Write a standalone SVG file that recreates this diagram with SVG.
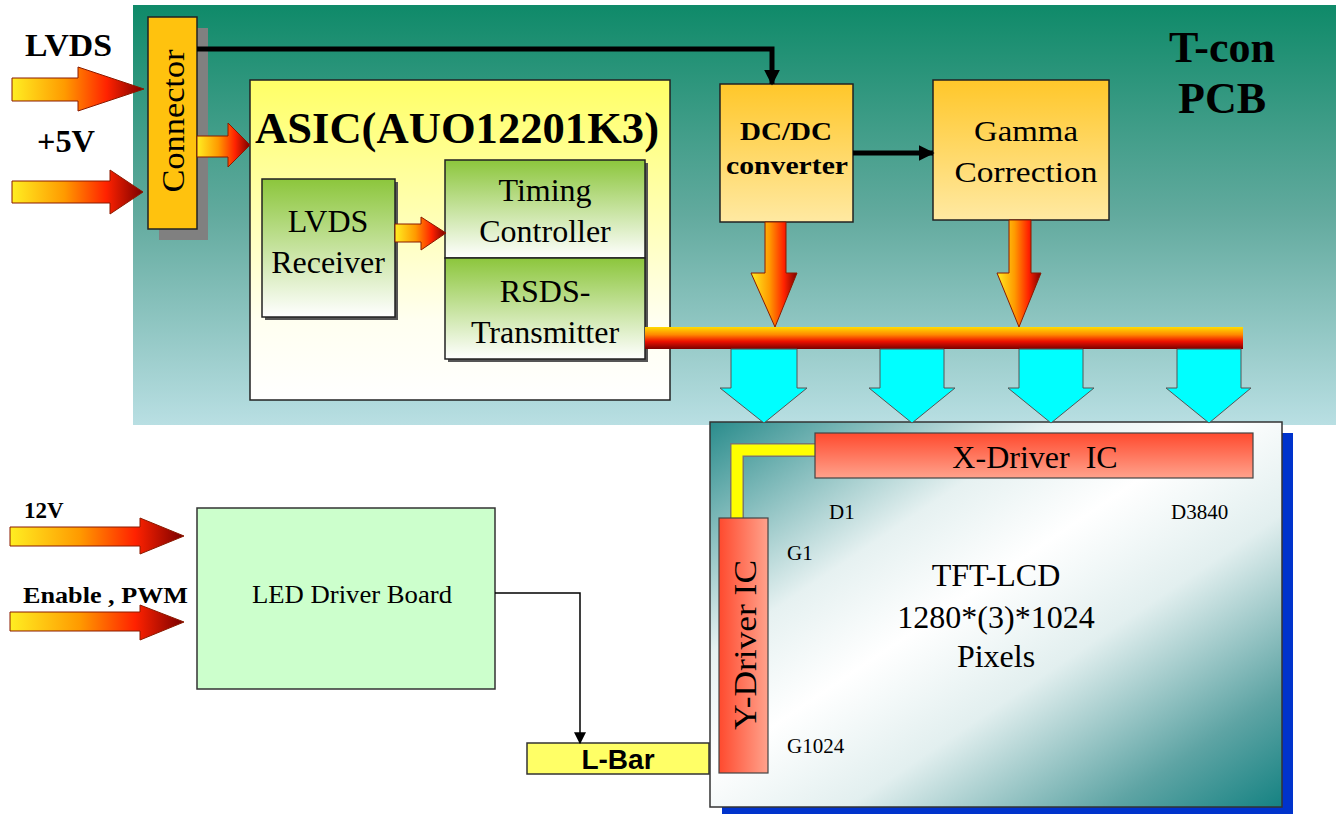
<svg xmlns="http://www.w3.org/2000/svg" width="1336" height="814" viewBox="0 0 1336 814">
<style>
.tr{font-family:"Liberation Serif","Times New Roman",serif;fill:#000}
.b{font-weight:bold}
.c{text-anchor:middle}
.box{stroke:#222;stroke-width:1.5}
.harr{fill:url(#hArrow);stroke:#8a1a00;stroke-width:1}
.cyan{fill:#00ffff;stroke:#555;stroke-width:1}
</style>
<defs>
<linearGradient id="pcbGrad" x1="0" y1="0" x2="0" y2="1">
<stop offset="0" stop-color="#0f8a69"/><stop offset="0.5" stop-color="#62aa9e"/><stop offset="1" stop-color="#b9dfe3"/>
</linearGradient>
<linearGradient id="asicGrad" x1="0" y1="0" x2="0" y2="1">
<stop offset="0" stop-color="#ffff66"/><stop offset="0.75" stop-color="#fffff0"/><stop offset="1" stop-color="#ffffff"/>
</linearGradient>
<linearGradient id="greenGrad" x1="0" y1="0" x2="0" y2="1">
<stop offset="0" stop-color="#8cc63c"/><stop offset="1" stop-color="#ffffff"/>
</linearGradient>
<linearGradient id="orangeBox" x1="0" y1="0" x2="0" y2="1">
<stop offset="0" stop-color="#ffc72a"/><stop offset="1" stop-color="#ffe9a2"/>
</linearGradient>
<linearGradient id="hArrow" x1="0" y1="0" x2="1" y2="0">
<stop offset="0" stop-color="#ffee22"/><stop offset="0.4" stop-color="#ff9a00"/><stop offset="0.72" stop-color="#ff2200"/><stop offset="1" stop-color="#7a0000"/>
</linearGradient>
<linearGradient id="busGrad" x1="0" y1="0" x2="0" y2="1">
<stop offset="0" stop-color="#ffdd00"/><stop offset="0.35" stop-color="#ff8800"/><stop offset="0.65" stop-color="#ee1100"/><stop offset="1" stop-color="#7a0000"/>
</linearGradient>
<linearGradient id="lcdGrad" x1="0" y1="0" x2="1" y2="1">
<stop offset="0" stop-color="#2a8c8c"/><stop offset="0.3" stop-color="#e6f1f1"/><stop offset="0.45" stop-color="#ffffff"/><stop offset="0.62" stop-color="#e2efef"/><stop offset="0.85" stop-color="#5ea4a4"/><stop offset="1" stop-color="#158282"/>
</linearGradient>
<linearGradient id="redV" x1="0" y1="0" x2="0" y2="1">
<stop offset="0" stop-color="#ff4a2e"/><stop offset="1" stop-color="#ffa28c"/>
</linearGradient>
<linearGradient id="redH" x1="0" y1="0" x2="1" y2="0">
<stop offset="0" stop-color="#ff4a2e"/><stop offset="1" stop-color="#ffa28c"/>
</linearGradient>
<marker id="blk" viewBox="0 0 10 10" refX="9" refY="5" markerWidth="3.2" markerHeight="3.2" orient="auto" markerUnits="strokeWidth">
<path d="M0,0 L10,5 L0,10 Z" fill="#000"/>
</marker>
<marker id="thin" viewBox="0 0 10 10" refX="9" refY="5" markerWidth="8" markerHeight="8" orient="auto" markerUnits="strokeWidth">
<path d="M0,0 L10,5 L0,10 Z" fill="#000"/>
</marker>
</defs>

<g id="pcb">
<rect x="133" y="5" width="1203" height="420" fill="url(#pcbGrad)"/>
<text class="tr b c" x="1222" y="62" font-size="44">T-con</text>
<text class="tr b c" x="1222" y="113" font-size="44">PCB</text>
</g>

<g id="inputs-top">
<text class="tr b" x="25" y="56" font-size="31" textLength="87" lengthAdjust="spacingAndGlyphs">LVDS</text>
<text class="tr b" x="37" y="152" font-size="31" textLength="58" lengthAdjust="spacingAndGlyphs">+5V</text>
</g>

<g id="connector">
<rect x="159" y="28" width="49" height="212" fill="#808080"/>
<rect class="box" x="148" y="17" width="49" height="212" fill="#ffc20e"/>
<text class="tr c" transform="translate(184,121) rotate(-90)" font-size="32" textLength="143" lengthAdjust="spacingAndGlyphs">Connector</text>
</g>

<g id="asic">
<rect class="box" x="250" y="80" width="420" height="320" fill="url(#asicGrad)"/>
<text class="tr b" x="255" y="143" font-size="44" textLength="404" lengthAdjust="spacingAndGlyphs">ASIC(AUO12201K3)</text>
</g>

<g id="lvds-receiver">
<rect x="265" y="182" width="133" height="138" fill="#555"/>
<rect class="box" x="262" y="179" width="133" height="138" fill="url(#greenGrad)"/>
<text class="tr c" x="328" y="232" font-size="32">LVDS</text>
<text class="tr c" x="328" y="273" font-size="32">Receiver</text>
</g>

<g id="timing-controller">
<rect x="448" y="163" width="200" height="98" fill="#555"/>
<rect class="box" x="445" y="160" width="200" height="98" fill="url(#greenGrad)"/>
<text class="tr c" x="545" y="201" font-size="32">Timing</text>
<text class="tr c" x="545" y="242" font-size="32">Controller</text>
</g>

<g id="rsds-transmitter">
<rect x="448" y="261" width="200" height="101" fill="#555"/>
<rect class="box" x="445" y="258" width="200" height="101" fill="url(#greenGrad)"/>
<text class="tr c" x="545" y="302" font-size="32">RSDS-</text>
<text class="tr c" x="545" y="343" font-size="32">Transmitter</text>
</g>

<g id="dcdc">
<rect class="box" x="720" y="84" width="133" height="138" fill="url(#orangeBox)"/>
<text class="tr b c" x="786" y="140" font-size="26" textLength="92" lengthAdjust="spacingAndGlyphs">DC/DC</text>
<text class="tr b c" x="787" y="174" font-size="26" textLength="122" lengthAdjust="spacingAndGlyphs">converter</text>
</g>

<g id="gamma">
<rect class="box" x="933" y="80" width="176" height="140" fill="url(#orangeBox)"/>
<text class="tr c" x="1026" y="141" font-size="30" textLength="104" lengthAdjust="spacingAndGlyphs">Gamma</text>
<text class="tr c" x="1026" y="182" font-size="30" textLength="143" lengthAdjust="spacingAndGlyphs">Correction</text>
</g>

<g id="lcd-panel">
<rect x="722" y="433" width="571" height="390" fill="#0033cc"/>
<rect x="710" y="422" width="572" height="385" fill="url(#lcdGrad)" stroke="#333" stroke-width="1.5"/>
<path d="M737,518 V450 H815" fill="none" stroke="#777" stroke-width="14"/>
<path d="M737,518 V450 H815" fill="none" stroke="#ffff00" stroke-width="11"/>
<text class="tr c" x="996" y="586" font-size="32">TFT-LCD</text>
<text class="tr c" x="996" y="628" font-size="32">1280*(3)*1024</text>
<text class="tr c" x="996" y="667" font-size="32">Pixels</text>
<text class="tr" x="829" y="519" font-size="21">D1</text>
<text class="tr" x="1171" y="519" font-size="21">D3840</text>
<text class="tr" x="787" y="560" font-size="21">G1</text>
<text class="tr" x="787" y="753" font-size="21">G1024</text>
</g>

<g id="x-driver">
<rect x="815" y="433" width="438" height="45" fill="url(#redV)" stroke="#444" stroke-width="1.2"/>
<text class="tr c" x="1035" y="468" font-size="32" xml:space="preserve">X-Driver  IC</text>
</g>

<g id="y-driver">
<rect x="719" y="518" width="49" height="255" fill="url(#redH)" stroke="#444" stroke-width="1.2"/>
<text class="tr c" transform="translate(756,645) rotate(-90)" font-size="32" textLength="170" lengthAdjust="spacingAndGlyphs">Y-Driver IC</text>
</g>

<g id="led-driver">
<rect x="197" y="508" width="298" height="181" fill="#ccffcc" stroke="#333" stroke-width="1.5"/>
<text class="tr c" x="352" y="603" font-size="26" textLength="200" lengthAdjust="spacingAndGlyphs">LED Driver Board</text>
</g>

<g id="lbar">
<rect x="527" y="743" width="182" height="31" fill="#ffff66" stroke="#333" stroke-width="1.5"/>
<text x="618" y="769" font-family="Liberation Sans, Arial, sans-serif" font-weight="bold" font-size="28" text-anchor="middle">L-Bar</text>
</g>

<g id="inputs-bottom">
<text class="tr b" x="24" y="518" font-size="23">12V</text>
<text class="tr b" x="23" y="603" font-size="24" textLength="165" lengthAdjust="spacingAndGlyphs">Enable , PWM</text>
</g>

<g id="connectors">
<polygon class="harr" points="12,78 78,78 78,67 144,89 78,111 78,101 12,101"/>
<polygon class="harr" points="12,181 110,181 110,170 143,192 110,214 110,203 12,203"/>
<polygon class="harr" points="197,136 228,136 228,123 250,145 228,167 228,157 197,157"/>
<polygon class="harr" points="395,224 421,224 421,217 446,233 421,250 421,242 395,242"/>
<polygon class="harr" points="765,222 786,222 786,273 797,273 775,327 751,273 765,273"/>
<polygon class="harr" points="1009,220 1031,220 1031,273 1041,273 1019,327 997,273 1009,273"/>
<polygon class="harr" points="10,527 140,527 140,518 184,536 140,554 140,546 10,546"/>
<polygon class="harr" points="10,612 140,612 140,605 184,622 140,640 140,631 10,631"/>
<rect x="645" y="327" width="598" height="22" fill="url(#busGrad)"/>
<polygon class="cyan" points="731,349 797,349 797,388 807,388 764,423 720,388 731,388"/>
<polygon class="cyan" points="880,349 944,349 944,388 955,388 912,423 869,388 880,388"/>
<polygon class="cyan" points="1019,349 1083,349 1083,388 1094,388 1051,423 1008,388 1019,388"/>
<polygon class="cyan" points="1177,349 1241,349 1241,388 1251,388 1209,423 1166,388 1177,388"/>
<path d="M197,49 H772 V84" fill="none" stroke="#000" stroke-width="5" marker-end="url(#blk)"/>
<path d="M853,153 H933" fill="none" stroke="#000" stroke-width="5" marker-end="url(#blk)"/>
<path d="M495,593 H580 V743" fill="none" stroke="#000" stroke-width="1.5" marker-end="url(#thin)"/>
</g>
</svg>
